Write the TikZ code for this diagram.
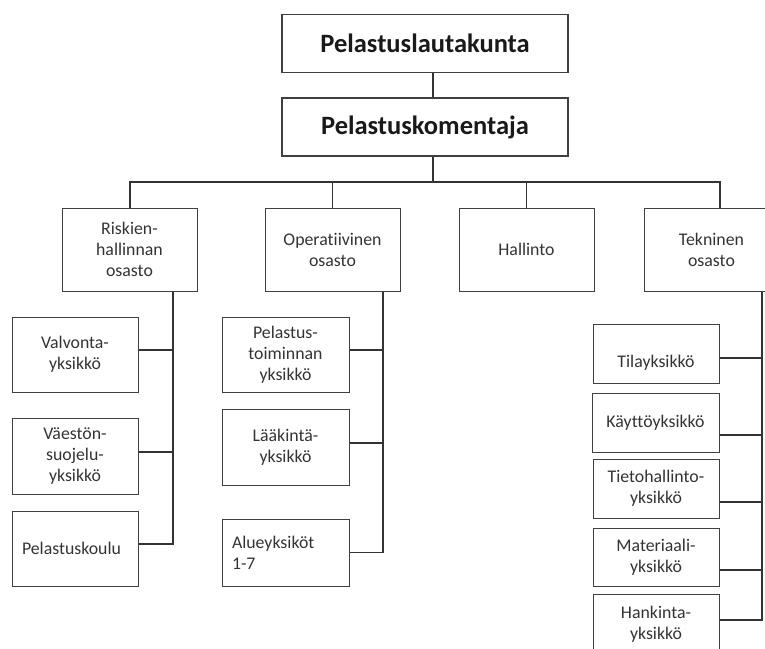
\documentclass[tikz,border=0pt]{standalone}
\usepackage{fontspec}
\setmainfont[Ligatures=NoCommon]{Carlito}
\begin{document}
\begin{tikzpicture}[x=1pt,y=1pt,
  topbox/.style={draw=black!75, line width=1.1pt, minimum width=286pt, minimum height=58pt, inner sep=0pt,
    font=\bfseries\fontsize{26.5}{30}\selectfont, text=black!90},
  deptbox/.style={draw=black!75, line width=1pt, minimum width=135pt, minimum height=83pt, inner sep=0pt,
    align=center, font=\fontsize{17.8}{21}\selectfont, text=black!80},
  unitbox/.style={deptbox, minimum width=126pt, minimum height=75pt},
  conn/.style={draw=black!80, line width=1.1pt}]
\useasboundingbox (0,0) rectangle (765,-648);
\clip (0,0) rectangle (765,-648);

% top
\node[topbox] (lauta) at (425,-43.5) {Pelastuslautakunta};
\node[topbox] (kom) at (425,-127) {Pelastuskomentaja};

% departments
\node[deptbox] (ris) at (129.5,-249.5) {Riskien-\\hallinnan\\osasto};
\node[deptbox] (ope) at (332.5,-249.5) {Operatiivinen\\osasto};
\node[deptbox] (hal) at (526.5,-249.5) {Hallinto};
\node[deptbox] (tek) at (711.5,-249.5) {Tekninen\\osasto};

% left units
\node[unitbox] (val) at (75,-354.5) {Valvonta-\\yksikkö};
\node[unitbox, minimum height=76pt] (vae) at (75,-456) {Väestön-\\suojelu-\\yksikkö};
\node[unitbox] (kou) at (75,-548.5) {\makebox[106pt][l]{Pelastuskoulu}};

% middle units
\node[unitbox, minimum width=127pt] (pto) at (285.5,-354.5) {Pelastus-\\toiminnan\\yksikkö};
\node[unitbox, minimum width=127pt, minimum height=76pt] (lak) at (285.5,-447) {Lääkintä-\\yksikkö};
\node[unitbox, minimum width=127pt, minimum height=67pt, text width=107pt, align=left] (alu) at (285.5,-552.5) {Alueyksiköt\\1-7};

% right units
\node[unitbox, minimum height=59pt] (til) at (656,-353.5) {\raisebox{-9pt}[\height][\depth]{Tilayksikkö}};
\node[unitbox, minimum height=59pt, minimum width=127pt] (kay) at (655.5,-422.5) {Käyttöyksikkö};
\node[unitbox, minimum height=59pt] (tie) at (656,-488.5) {Tietohallinto-\\yksikkö};
\node[unitbox, minimum height=58pt] (mat) at (656,-557) {Materiaali-\\yksikkö};
\node[unitbox, minimum height=60pt] (han) at (656,-624) {Hankinta-\\yksikkö};

% connectors
\coordinate (trunk) at (433,-182);
\coordinate (busL) at (130,-182);
\coordinate (busR) at (720,-182);
\coordinate (rx) at (173,0);
\coordinate (ox) at (383,0);
\coordinate (tx) at (762,0);

\draw[conn] (lauta.south -| trunk) -- (kom.north -| trunk);
\draw[conn] (kom.south -| trunk) -- (trunk);
\draw[conn] (ris.north -| busL) |- (busR) -- (tek.north -| busR);
\draw[conn] (ope.north) -- (ope.north |- trunk);
\draw[conn] (hal.north) -- (hal.north |- trunk);

\draw[conn] (ris.south -| rx) |- ([yshift=4.5pt]kou.east);
\draw[conn] ([yshift=4.5pt]val.east) -- ([yshift=4.5pt]val.east -| rx);
\draw[conn] ([yshift=4pt]vae.east) -- ([yshift=4pt]vae.east -| rx);

\draw[conn] (ope.south -| ox) |- (alu.east);
\draw[conn] ([yshift=4.5pt]pto.east) -- ([yshift=4.5pt]pto.east -| ox);
\draw[conn] ([yshift=4pt]lak.east) -- ([yshift=4pt]lak.east -| ox);

\draw[conn] (tek.south -| tx) |- ([yshift=4pt]han.east);
\draw[conn] ([yshift=-4.5pt]til.east) -- ([yshift=-4.5pt]til.east -| tx);
\draw[conn] ([yshift=-12.5pt]kay.east) -- ([yshift=-12.5pt]kay.east -| tx);
\draw[conn] ([yshift=-13.5pt]tie.east) -- ([yshift=-13.5pt]tie.east -| tx);
\draw[conn] ([yshift=-13pt]mat.east) -- ([yshift=-13pt]mat.east -| tx);
\end{tikzpicture}
\end{document}
